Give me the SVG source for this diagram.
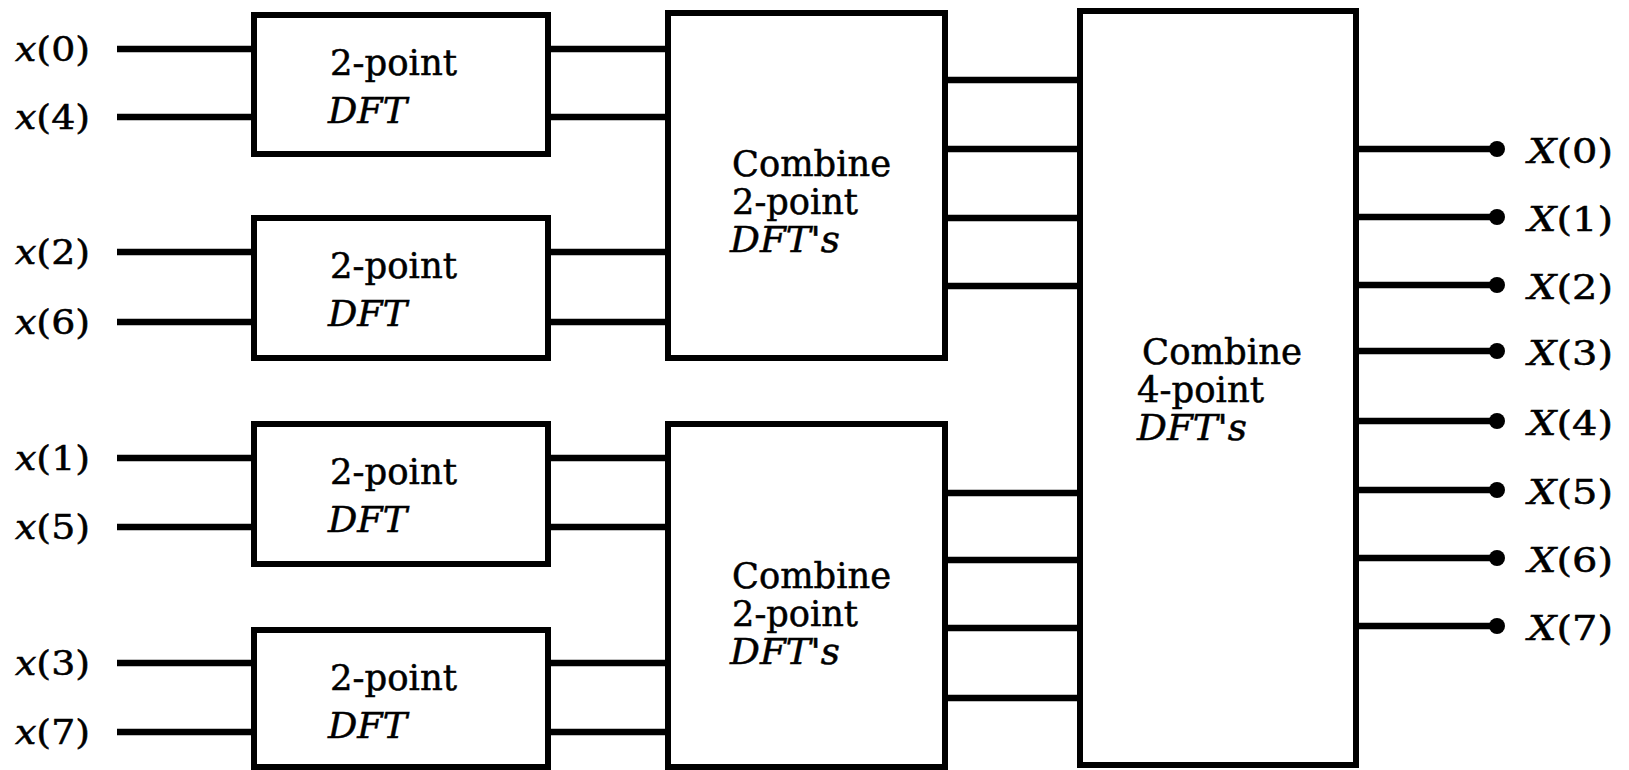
<svg xmlns="http://www.w3.org/2000/svg" width="1629" height="770" viewBox="0 0 1629 770">
<style>
.box { fill: #ffffff; stroke: #000000; stroke-width: 6; }
.wire { stroke: #000000; stroke-width: 6.5; fill: none; }
.dot { fill: #000000; }
.lbl { font-family: "DejaVu Serif", "Liberation Serif", serif; font-size: 33px; fill: #000000; stroke: #000000; stroke-width: 0.5; }
.bt { font-family: "DejaVu Serif", "Liberation Serif", serif; font-size: 35px; fill: #000000; stroke: #000000; stroke-width: 0.5; }
.it { font-style: italic; }
</style>
<rect width="1629" height="770" fill="#ffffff"/>

<g id="connectors">
  <line class="wire" x1="117" y1="49" x2="254" y2="49"/>
  <line class="wire" x1="117" y1="117" x2="254" y2="117"/>
  <line class="wire" x1="117" y1="252" x2="254" y2="252"/>
  <line class="wire" x1="117" y1="322" x2="254" y2="322"/>
  <line class="wire" x1="117" y1="458" x2="254" y2="458"/>
  <line class="wire" x1="117" y1="527" x2="254" y2="527"/>
  <line class="wire" x1="117" y1="663" x2="254" y2="663"/>
  <line class="wire" x1="117" y1="732" x2="254" y2="732"/>
  <line class="wire" x1="548" y1="49" x2="668" y2="49"/>
  <line class="wire" x1="548" y1="117" x2="668" y2="117"/>
  <line class="wire" x1="548" y1="252" x2="668" y2="252"/>
  <line class="wire" x1="548" y1="322" x2="668" y2="322"/>
  <line class="wire" x1="548" y1="458" x2="668" y2="458"/>
  <line class="wire" x1="548" y1="527" x2="668" y2="527"/>
  <line class="wire" x1="548" y1="663" x2="668" y2="663"/>
  <line class="wire" x1="548" y1="732" x2="668" y2="732"/>
  <line class="wire" x1="945" y1="80" x2="1080" y2="80"/>
  <line class="wire" x1="945" y1="149" x2="1080" y2="149"/>
  <line class="wire" x1="945" y1="218" x2="1080" y2="218"/>
  <line class="wire" x1="945" y1="286" x2="1080" y2="286"/>
  <line class="wire" x1="945" y1="493" x2="1080" y2="493"/>
  <line class="wire" x1="945" y1="560" x2="1080" y2="560"/>
  <line class="wire" x1="945" y1="628" x2="1080" y2="628"/>
  <line class="wire" x1="945" y1="698" x2="1080" y2="698"/>
  <line class="wire" x1="1356" y1="149" x2="1497" y2="149"/>
  <line class="wire" x1="1356" y1="217" x2="1497" y2="217"/>
  <line class="wire" x1="1356" y1="285" x2="1497" y2="285"/>
  <line class="wire" x1="1356" y1="351" x2="1497" y2="351"/>
  <line class="wire" x1="1356" y1="421" x2="1497" y2="421"/>
  <line class="wire" x1="1356" y1="490" x2="1497" y2="490"/>
  <line class="wire" x1="1356" y1="558" x2="1497" y2="558"/>
  <line class="wire" x1="1356" y1="626" x2="1497" y2="626"/>
  <circle class="dot" cx="1497" cy="149" r="8"/>
  <circle class="dot" cx="1497" cy="217" r="8"/>
  <circle class="dot" cx="1497" cy="285" r="8"/>
  <circle class="dot" cx="1497" cy="351" r="8"/>
  <circle class="dot" cx="1497" cy="421" r="8"/>
  <circle class="dot" cx="1497" cy="490" r="8"/>
  <circle class="dot" cx="1497" cy="558" r="8"/>
  <circle class="dot" cx="1497" cy="626" r="8"/>
</g>

<g id="inputs">
  <text class="lbl" x="15" y="61" textLength="75" lengthAdjust="spacingAndGlyphs"><tspan class="it">x</tspan>(0)</text>
  <text class="lbl" x="15" y="129" textLength="75" lengthAdjust="spacingAndGlyphs"><tspan class="it">x</tspan>(4)</text>
  <text class="lbl" x="15" y="264" textLength="75" lengthAdjust="spacingAndGlyphs"><tspan class="it">x</tspan>(2)</text>
  <text class="lbl" x="15" y="334" textLength="75" lengthAdjust="spacingAndGlyphs"><tspan class="it">x</tspan>(6)</text>
  <text class="lbl" x="15" y="470" textLength="75" lengthAdjust="spacingAndGlyphs"><tspan class="it">x</tspan>(1)</text>
  <text class="lbl" x="15" y="539" textLength="75" lengthAdjust="spacingAndGlyphs"><tspan class="it">x</tspan>(5)</text>
  <text class="lbl" x="15" y="675" textLength="75" lengthAdjust="spacingAndGlyphs"><tspan class="it">x</tspan>(3)</text>
  <text class="lbl" x="15" y="744" textLength="75" lengthAdjust="spacingAndGlyphs"><tspan class="it">x</tspan>(7)</text>
</g>

<g id="dft2-a">
  <rect class="box" x="254" y="15" width="294" height="139"/>
  <text class="bt" x="330" y="75" textLength="127" lengthAdjust="spacingAndGlyphs">2-point</text>
  <text class="bt it" x="328" y="123" textLength="79" lengthAdjust="spacingAndGlyphs">DFT</text>
</g>
<g id="dft2-b">
  <rect class="box" x="254" y="218" width="294" height="140"/>
  <text class="bt" x="330" y="278" textLength="127" lengthAdjust="spacingAndGlyphs">2-point</text>
  <text class="bt it" x="328" y="326" textLength="79" lengthAdjust="spacingAndGlyphs">DFT</text>
</g>
<g id="dft2-c">
  <rect class="box" x="254" y="424" width="294" height="140"/>
  <text class="bt" x="330" y="484" textLength="127" lengthAdjust="spacingAndGlyphs">2-point</text>
  <text class="bt it" x="328" y="532" textLength="79" lengthAdjust="spacingAndGlyphs">DFT</text>
</g>
<g id="dft2-d">
  <rect class="box" x="254" y="630" width="294" height="137"/>
  <text class="bt" x="330" y="690" textLength="127" lengthAdjust="spacingAndGlyphs">2-point</text>
  <text class="bt it" x="328" y="738" textLength="79" lengthAdjust="spacingAndGlyphs">DFT</text>
</g>

<g id="combine2-a">
  <rect class="box" x="668" y="13" width="277" height="345"/>
  <text class="bt" x="732" y="176" textLength="159" lengthAdjust="spacingAndGlyphs">Combine</text>
  <text class="bt" x="732" y="214" textLength="126" lengthAdjust="spacingAndGlyphs">2-point</text>
  <text class="bt it" x="730" y="252" textLength="110" lengthAdjust="spacingAndGlyphs">DFT's</text>
</g>
<g id="combine2-b">
  <rect class="box" x="668" y="424" width="277" height="343"/>
  <text class="bt" x="732" y="588" textLength="159" lengthAdjust="spacingAndGlyphs">Combine</text>
  <text class="bt" x="732" y="626" textLength="126" lengthAdjust="spacingAndGlyphs">2-point</text>
  <text class="bt it" x="730" y="664" textLength="110" lengthAdjust="spacingAndGlyphs">DFT's</text>
</g>

<g id="combine4">
  <rect class="box" x="1080" y="11" width="276" height="754"/>
  <text class="bt" x="1142" y="364" textLength="160" lengthAdjust="spacingAndGlyphs">Combine</text>
  <text class="bt" x="1137" y="402" textLength="127" lengthAdjust="spacingAndGlyphs">4-point</text>
  <text class="bt it" x="1137" y="440" textLength="110" lengthAdjust="spacingAndGlyphs">DFT's</text>
</g>

<g id="outputs">
  <text class="lbl" x="1528" y="163" textLength="85" lengthAdjust="spacingAndGlyphs"><tspan class="it">X</tspan>(0)</text>
  <text class="lbl" x="1528" y="231" textLength="85" lengthAdjust="spacingAndGlyphs"><tspan class="it">X</tspan>(1)</text>
  <text class="lbl" x="1528" y="299" textLength="85" lengthAdjust="spacingAndGlyphs"><tspan class="it">X</tspan>(2)</text>
  <text class="lbl" x="1528" y="365" textLength="85" lengthAdjust="spacingAndGlyphs"><tspan class="it">X</tspan>(3)</text>
  <text class="lbl" x="1528" y="435" textLength="85" lengthAdjust="spacingAndGlyphs"><tspan class="it">X</tspan>(4)</text>
  <text class="lbl" x="1528" y="504" textLength="85" lengthAdjust="spacingAndGlyphs"><tspan class="it">X</tspan>(5)</text>
  <text class="lbl" x="1528" y="572" textLength="85" lengthAdjust="spacingAndGlyphs"><tspan class="it">X</tspan>(6)</text>
  <text class="lbl" x="1528" y="640" textLength="85" lengthAdjust="spacingAndGlyphs"><tspan class="it">X</tspan>(7)</text>
</g>
</svg>
